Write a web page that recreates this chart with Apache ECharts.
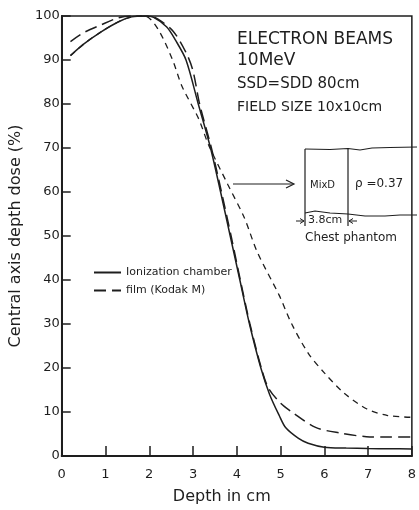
<!DOCTYPE html>
<html>
<head>
<meta charset="utf-8">
<script src="https://cdn.jsdelivr.net/npm/echarts@6/dist/echarts.min.js"></script>
<style>
html,body{margin:0;padding:0;background:#fff;}
#chart{width:419px;height:510px;}
</style>
</head>
<body>
<div id="chart"></div>
<script>
// ---- data ----
var xTicks = [0, 1, 2, 3, 4, 5, 6, 7, 8];
var yTicks = [0, 10, 20, 30, 40, 50, 60, 70, 80, 90, 100];

// Ionization chamber (solid)
var depthIon = [0.2, 0.5, 0.9, 1.3, 1.6, 1.9, 2.1, 2.4, 2.6, 2.84, 3.12, 3.4, 3.63, 3.85, 4.07, 4.29, 4.55, 4.75, 4.97, 5.12, 5.41, 5.63, 6.0, 6.5, 7.0, 7.5, 8.0];
var doseIon  = [91, 93.6, 96.4, 98.7, 99.8, 100, 99.7, 97.5, 94.5, 90, 80, 70, 60, 50, 40, 30, 20, 14, 9.2, 6.4, 4.0, 2.9, 2.0, 1.8, 1.7, 1.65, 1.6];

// Film (Kodak M) (long dash)
var depthFilm = [0.2, 0.5, 0.9, 1.3, 1.6, 2.0, 2.2, 2.55, 2.85, 3.0, 3.15, 3.42, 3.65, 3.87, 4.08, 4.3, 4.56, 4.72, 5.0, 5.27, 5.8, 6.37, 6.96, 7.5, 8.0];
var doseFilm  = [94.2, 96.2, 98, 99.6, 100, 100, 99.3, 96.5, 91.5, 87.5, 80, 70, 60, 50, 40, 30, 20, 15.5, 12, 9.9, 6.5, 5.2, 4.4, 4.3, 4.3];

// Chest phantom (short dash)
var depthChest = [0.2, 0.5, 0.9, 1.3, 1.6, 1.9, 2.2, 2.53, 2.75, 3.13, 3.36, 3.8, 4.17, 4.47, 4.97, 5.25, 5.63, 6.0, 6.44, 6.95, 7.45, 8.0];
var doseChest  = [91, 93.6, 96.4, 98.7, 99.8, 100, 97, 90.1, 84, 76.6, 70.6, 61.6, 54.2, 46.3, 36.5, 30.1, 23.4, 18.9, 14.4, 10.8, 9.2, 8.8];

var seriesNames = ['Ionization chamber', 'film (Kodak M)', 'Chest phantom'];

function pairs(xs, ys) { return xs.map(function (x, i) { return [x, ys[i]]; }); }

var ink = '#1e1e1e';
var font = 'DejaVu Sans';

var chart = echarts.init(document.getElementById('chart'), null, { renderer: 'canvas' });

var option = {
  backgroundColor: '#ffffff',
  animation: false,
  color: [ink, ink, ink],
  textStyle: { fontFamily: font, color: ink },
  grid: {
    left: 55, right: 2, top: 16, bottom: 49,
    show: true, borderColor: ink, borderWidth: 1.5, containLabel: false
  },
  legend: {
    data: [seriesNames[0], seriesNames[1]],
    orient: 'vertical',
    left: 93, top: 267, padding: 0,
    itemWidth: 27, itemHeight: 10, itemGap: 7,
    itemStyle: { opacity: 0 },
    textStyle: { fontFamily: font, fontSize: 11, color: ink },
    selectedMode: false
  },
  xAxis: {
    type: 'value', min: 0, max: 8, interval: 1,
    name: 'Depth in cm', nameLocation: 'middle', nameGap: 33,
    nameTextStyle: { fontFamily: font, fontSize: 16, color: ink, padding: [0, 30, 0, 0] },
    axisLine: { show: true, lineStyle: { color: ink, width: 2 } },
    axisTick: { show: true, inside: true, length: 10, lineStyle: { color: ink, width: 1.5 } },
    axisLabel: { fontFamily: font, fontSize: 13, color: ink, margin: 12,
      formatter: function (v) { return xTicks.indexOf(v) >= 0 ? String(v) : ''; } },
    splitLine: { show: false }
  },
  yAxis: {
    type: 'value', min: 0, max: 100, interval: 10,
    name: 'Central axis depth dose (%)', nameLocation: 'middle', nameGap: 36, nameRotate: 90,
    nameTextStyle: { fontFamily: font, fontSize: 16, color: ink },
    axisLine: { show: true, lineStyle: { color: ink, width: 2 } },
    axisTick: { show: true, inside: true, length: 9, lineStyle: { color: ink, width: 1.5 } },
    axisLabel: { fontFamily: font, fontSize: 13, color: ink, margin: 2,
      formatter: function (v) { return yTicks.indexOf(v) >= 0 ? String(v) : ''; } },
    splitLine: { show: false }
  },
  series: [
    {
      name: seriesNames[2], type: 'line', data: pairs(depthChest, doseChest),
      symbol: 'none', smooth: 0.3, z: 2,
      itemStyle: { color: ink },
      lineStyle: { color: ink, width: 1.3, type: [6, 5] }
    },
    {
      name: seriesNames[1], type: 'line', data: pairs(depthFilm, doseFilm),
      symbol: 'none', smooth: 0.3, z: 3,
      itemStyle: { color: ink },
      lineStyle: { color: ink, width: 1.5, type: [12, 6] }
    },
    {
      name: seriesNames[0], type: 'line', data: pairs(depthIon, doseIon),
      symbol: 'none', smooth: 0.3, z: 4,
      itemStyle: { color: ink },
      lineStyle: { color: ink, width: 1.5, type: 'solid' }
    }
  ],
  graphic: [
    { type: 'text', left: 237, top: 31, style: { text: 'ELECTRON BEAMS', font: '17px "DejaVu Sans"', fill: ink } },
    { type: 'text', left: 237, top: 52, style: { text: '10MeV', font: '17px "DejaVu Sans"', fill: ink } },
    { type: 'text', left: 237, top: 77, style: { text: 'SSD=SDD 80cm', font: '15px "DejaVu Sans"', fill: ink } },
    { type: 'text', left: 237, top: 100, style: { text: 'FIELD SIZE 10x10cm', font: '14px "DejaVu Sans"', fill: ink } },
    // arrow to inset
    { type: 'line', shape: { x1: 233, y1: 184, x2: 293, y2: 184 }, style: { stroke: ink, lineWidth: 1.2 } },
    { type: 'polyline', shape: { points: [[286, 180], [294, 184], [286, 188]] }, style: { stroke: ink, lineWidth: 1.2, fill: null } },
    // inset phantom
    { type: 'line', shape: { x1: 305, y1: 149, x2: 305, y2: 226 }, style: { stroke: ink, lineWidth: 1.2 } },
    { type: 'line', shape: { x1: 348, y1: 148, x2: 348, y2: 226 }, style: { stroke: ink, lineWidth: 1.2 } },
    { type: 'polyline', shape: { points: [[305, 149], [330, 149.5], [348, 148.5], [360, 150], [372, 148], [390, 147.5], [417, 147]] }, style: { stroke: ink, lineWidth: 1.2, fill: null } },
    { type: 'polyline', shape: { points: [[305, 213], [315, 211], [330, 213], [348, 214], [365, 216], [385, 216], [400, 215], [417, 215]] }, style: { stroke: ink, lineWidth: 1.2, fill: null } },
    { type: 'text', left: 310, top: 180, style: { text: 'MixD', font: '10px "DejaVu Sans"', fill: ink } },
    { type: 'text', left: 355, top: 178, style: { text: 'ρ =0.37', font: '12px "DejaVu Sans"', fill: ink } },
    { type: 'text', left: 308, top: 215, style: { text: '3.8cm', font: '11px "DejaVu Sans"', fill: ink } },
    { type: 'polyline', shape: { points: [[296, 221], [304, 221]] }, style: { stroke: ink, lineWidth: 1 } },
    { type: 'polyline', shape: { points: [[300, 218.5], [304, 221], [300, 223.5]] }, style: { stroke: ink, lineWidth: 1, fill: null } },
    { type: 'polyline', shape: { points: [[349, 221], [357, 221]] }, style: { stroke: ink, lineWidth: 1 } },
    { type: 'polyline', shape: { points: [[353, 218.5], [349, 221], [353, 223.5]] }, style: { stroke: ink, lineWidth: 1, fill: null } },
    { type: 'text', left: 305, top: 232, style: { text: 'Chest phantom', font: '12px "DejaVu Sans"', fill: ink } }
  ]
};

chart.setOption(option);
</script>
</body>
</html>
